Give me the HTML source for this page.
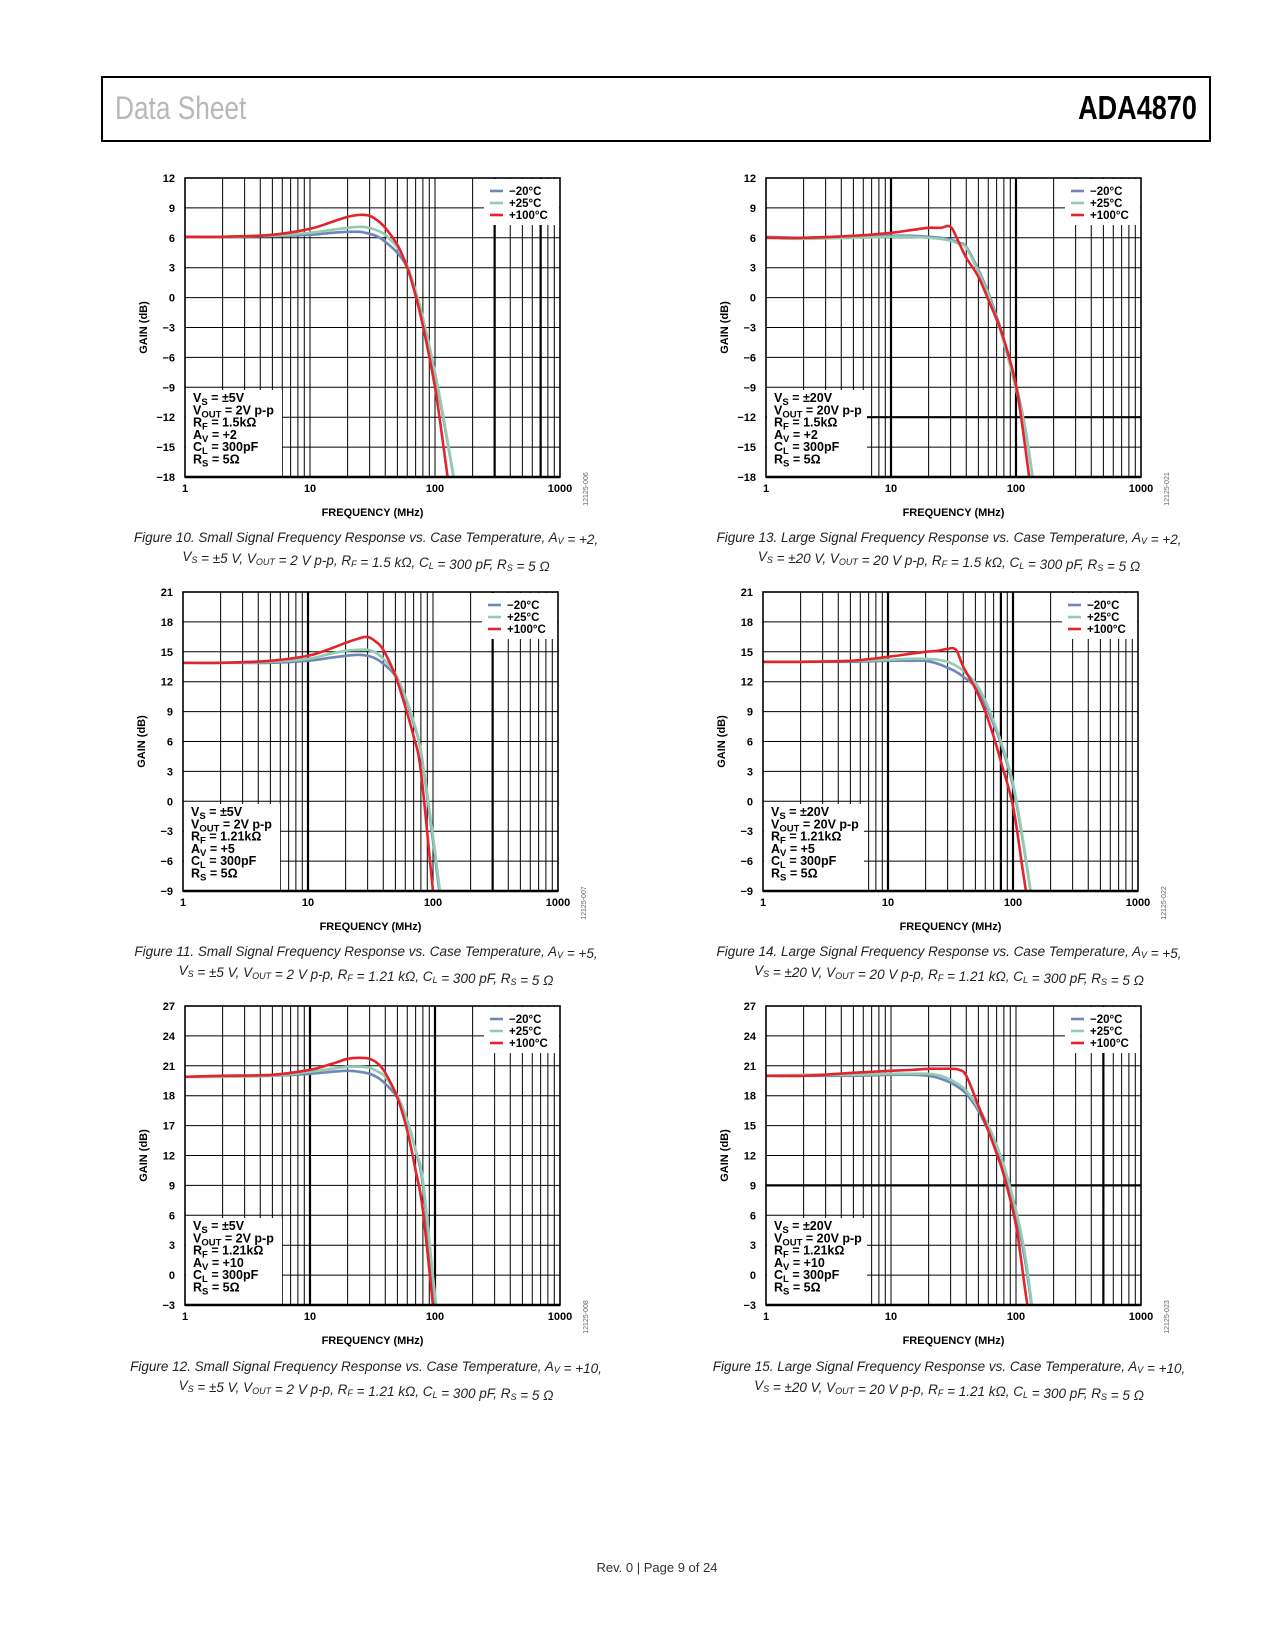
<!DOCTYPE html>
<html><head><meta charset="utf-8">
<style>
html,body{margin:0;padding:0;background:#fff;}
body{width:1275px;height:1650px;position:relative;overflow:hidden;font-family:"Liberation Sans",sans-serif;}
#hdr{position:absolute;left:101px;top:76px;width:1110px;height:66px;border:2px solid #000;box-sizing:border-box;}
#hdr .l{position:absolute;left:12px;top:12px;font-size:32px;color:#b8b8b8;font-family:"Liberation Sans Narrow","Liberation Sans",sans-serif;transform:scaleX(0.82);transform-origin:left;}
#hdr .r{position:absolute;right:12px;top:11px;font-size:33px;font-weight:bold;color:#000;font-family:"Liberation Sans Narrow","Liberation Sans",sans-serif;transform:scaleX(0.82);transform-origin:right;}
svg{position:absolute;left:0;top:0;}
.cap{font-family:"Liberation Sans",sans-serif;font-style:italic;font-size:13.5px;fill:#222;}
</style></head><body>
<div id="hdr">
<div class="l">Data Sheet</div>
<div class="r">ADA4870</div>
</div>
<svg id="pg" width="1275" height="1650" xmlns="http://www.w3.org/2000/svg">
<text x="657" y="1572" text-anchor="middle" font-size="13" fill="#333">Rev. 0 | Page 9 of 24</text>
</svg>
<script>
const freqs = [1,2,5,10,15,20,25,30,35,40,50,60,70,80,100,120,150];
const seriesNames = ["−20°C","+25°C","+100°C"];
const xTickLabels = ["1","10","100","1000"];
// Figure 10
const f10Blue  = [6.1,6.1,6.2,6.3,6.5,6.6,6.6,6.4,6.1,5.6,4.5,3.0,0.5,-2.5,-7.8,-13,-20];
const f10Green = [6.1,6.1,6.2,6.5,6.8,7.0,7.1,7.0,6.7,6.3,5.0,3.2,0.7,-2.0,-7.5,-12.8,-20];
const f10Red   = [6.1,6.1,6.3,6.9,7.6,8.1,8.3,8.2,7.7,7.0,5.3,3.0,0.2,-2.8,-9,-16,-25];
const f10Ticks = ["12","9","6","3","0","−3","−6","−9","−12","−15","−18"];
// Figure 11
const f11Blue  = [13.9,13.9,13.9,14.1,14.4,14.6,14.7,14.6,14.3,13.8,12.6,10.4,7.8,5.0,-4,-12,-22];
const f11Green = [13.9,13.9,14.0,14.3,14.8,15.1,15.2,15.2,14.9,14.3,12.8,10.5,8.0,5.0,-3.5,-11.5,-22];
const f11Red   = [13.9,13.9,14.1,14.6,15.3,15.9,16.3,16.5,16.0,15.2,12.6,9.5,6.5,3.0,-9,-18,-30];
const f11Ticks = ["21","18","15","12","9","6","3","0","−3","−6","−9"];
// Figure 12
const f12Blue  = [19.9,19.9,20.0,20.2,20.4,20.5,20.4,20.2,19.8,19.2,17.8,15.5,12.5,9,-2.5,-8,-18];
const f12Green = [19.9,19.9,20.0,20.4,20.7,20.9,20.9,20.8,20.4,19.9,18.0,15.5,12.5,9.5,-2,-10,-20];
const f12Red   = [19.9,20.0,20.1,20.6,21.2,21.7,21.8,21.7,21.2,20.3,17.8,14.5,10.5,6.5,-5,-14,-25];
const f12Ticks = ["27","24","21","18","17","12","9","6","3","0","−3"];
// Figure 13
const f13Blue  = [6.1,6.0,6.1,6.2,6.2,6.1,6.0,5.8,5.5,5.1,2.8,0.5,-1.9,-4.2,-8.8,-13.5,-22];
const f13Green = [6.0,5.9,6.0,6.1,6.1,6.0,5.9,5.7,5.4,5.0,2.6,0.3,-2.2,-4.5,-9.2,-13.5,-22];
const f13Red   = [6.0,6.0,6.2,6.5,6.8,7.0,7.0,7.1,5.5,4.0,2.1,-0.2,-2.2,-4.2,-8.8,-15.5,-25];
const f13Ticks = ["12","9","6","3","0","−3","−6","−9","−12","−15","−18"];
// Figure 14
const f14Blue  = [14.0,14.0,14.0,14.1,14.1,14.1,13.8,13.4,13.0,12.5,11.5,9.7,7.7,5.8,1.5,-4,-12];
const f14Green = [14.0,14.0,14.1,14.2,14.3,14.3,14.2,14.0,13.6,13.1,11.9,10.1,8.0,6.0,1.8,-3.8,-12];
const f14Red   = [14.0,14.0,14.1,14.5,14.8,15.0,15.1,15.3,15.2,13.5,11.3,9.0,6.5,4.0,-0.5,-7,-15];
const f14Ticks = ["21","18","15","12","9","6","3","0","−3","−6","−9"];
// Figure 15
const f15Blue  = [20.0,20.0,20.0,20.1,20.1,20.0,19.7,19.3,18.8,18.2,16.5,14.5,12.5,10.5,6,1,-8];
const f15Green = [20.0,20.1,20.1,20.2,20.2,20.2,20.0,19.6,19.1,18.5,16.8,15,13,11,6.5,1.5,-8];
const f15Red   = [20.0,20.0,20.3,20.5,20.6,20.7,20.7,20.7,20.6,20.0,17.0,14.5,12.2,10.0,5.0,-2,-10];
const f15Ticks = ["27","24","21","18","15","12","9","6","3","0","−3"];

const NS="http://www.w3.org/2000/svg";
const pg=document.getElementById('pg');
const COLORS=["#6f86b8","#93cbb0","#e3242b"];
function mk(tag,attrs,parent){const e=document.createElementNS(NS,tag);for(const k in attrs)e.setAttribute(k,attrs[k]);(parent||pg).appendChild(e);return e;}

function drawChart(c){
  const g=mk('g',{});
  
  
  const L=c.left,T=c.top,W=375,H=299,B=T+H,R=L+W;
  const xs=f=>L+Math.log10(f)*W/3;
  const ys=v=>T+(c.ymax-v)*H/(c.ymax-c.ymin);
  for(let d=0;d<3;d++)for(let k=1;k<10;k++){
    const f=Math.pow(10,d)*k; if(f===1)continue;
    const x=xs(f); const heavy=c.heavyX.indexOf(f)>=0;
    const ln=mk('line',{x1:x,x2:x,y1:T,y2:B,stroke:'#000','stroke-width':heavy?2.2:1},g);
    
    
  }
  for(let i=1;i<10;i++){
    const y=T+i*H/10; const heavy=c.heavyY.indexOf(i)>=0;
    const ln=mk('line',{x1:L,x2:R,y1:y,y2:y,stroke:'#000','stroke-width':heavy?2.2:1},g);
    
    
  }
  const lb=mk('rect',{x:R-76,y:T+1,width:75,height:46,fill:'#fff'},g);
  
  
  const ab=mk('rect',{x:L+1,y:B-87,width:c.annW,height:86,fill:'#fff'},g);
  
  
  const cid='clip'+c.id;
  const cp=mk('clipPath',{id:cid},g); mk('rect',{x:L,y:T,width:W,height:H},cp);
  const sers=[c.blue,c.green,c.red];
  sers.forEach((s,si)=>{
    const pts=freqs.map((f,i)=>[xs(f),ys(s[i])]);
    let d='M'+pts[0][0]+','+pts[0][1];
    for(let i=0;i<pts.length-1;i++){
      const p0=pts[i-1]||pts[i],p1=pts[i],p2=pts[i+1],p3=pts[i+2]||p2;
      const c1=[p1[0]+(p2[0]-p0[0])/6,p1[1]+(p2[1]-p0[1])/6];
      const c2=[p2[0]-(p3[0]-p1[0])/6,p2[1]-(p3[1]-p1[1])/6];
      d+=' C'+c1[0]+','+c1[1]+' '+c2[0]+','+c2[1]+' '+p2[0]+','+p2[1];
    }
    const p=mk('path',{d:d,fill:'none',stroke:COLORS[si],'stroke-width':2.6,'clip-path':'url(#'+cid+')','stroke-linejoin':'round'},g);
    
    
  });
  const fr=mk('rect',{x:L,y:T,width:W,height:H,fill:'none',stroke:'#000','stroke-width':1.6},g);
  
  
  const bl=mk('line',{x1:L,x2:R,y1:B,y2:B,stroke:'#000','stroke-width':2.4},g);
  
  
  seriesNames.forEach((n,i)=>{
    const y=T+13+i*12;
    const sw=mk('line',{x1:R-70,x2:R-57,y1:y,y2:y,stroke:COLORS[i],'stroke-width':2.6},g);
    
    
    const t=mk('text',{x:R-51,y:y+4,'font-size':11.5,'font-weight':'bold'},g);
    t.textContent=n;
    
    
  });
  c.ticks.forEach((lab,i)=>{
    const t=mk('text',{x:L-10,y:T+i*H/10+4,'font-size':11,'font-weight':'bold','text-anchor':'end'},g);
    t.textContent=lab;
    
    
  });
  xTickLabels.forEach((lab,i)=>{
    const t=mk('text',{x:L+i*W/3,y:B+15,'font-size':11,'font-weight':'bold','text-anchor':'middle'},g);
    t.textContent=lab;
    
    
  });
  const xt=mk('text',{x:L+W/2,y:B+39,'font-size':11,'font-weight':'bold','text-anchor':'middle'},g);
  xt.textContent='FREQUENCY (MHz)';
  
  
  const gx=L-38,gy=T+H/2;
  const yt=mk('text',{x:gx,y:gy,'font-size':11,'font-weight':'bold','text-anchor':'middle',transform:'rotate(-90 '+gx+' '+gy+')'},g);
  yt.textContent='GAIN (dB)';
  
  
  const cx=R+28,cy=B+12;
  const ct=mk('text',{x:cx,y:cy,'font-size':7,fill:'#666','text-anchor':'middle',transform:'rotate(-90 '+cx+' '+cy+')'},g);
  ct.textContent=c.code;
  
  
  c.ann.forEach((ln,i)=>{
    const t=mk('text',{x:L+8,y:B-75+i*12.3,'font-size':12.5,'font-weight':'bold'},g);
    t.innerHTML=ln;
    
    
  });
  c.cap.forEach((ln,i)=>{
    const t=mk('text',{x:c.capX,y:c.capY+i*19,'text-anchor':'middle',class:'cap'},pg);
    t.innerHTML=ln;
    
    
  });
}
const sub=s=>'<tspan dy="3" font-size="9.5">'+s+'</tspan><tspan dy="-3"> </tspan>';
const ssub=s=>'<tspan dy="2" font-size="9">'+s+'</tspan><tspan dy="-2"></tspan>';
function ann(vs,vo,rf,av){return ['V'+sub('S')+'= '+vs,'V'+sub('OUT')+'= '+vo,'R'+sub('F')+'= '+rf,'A'+sub('V')+'= '+av,'C'+sub('L')+'= 300pF','R'+sub('S')+'= 5Ω'];}
function cap(n,title,av,vs,vo,rf){return ['Figure '+n+'. '+title+' Frequency Response vs. Case Temperature, A'+ssub('V')+' = '+av+',',
 'V'+ssub('S')+' = '+vs+', V'+ssub('OUT')+' = '+vo+' p-p, R'+ssub('F')+' = '+rf+' kΩ, C'+ssub('L')+' = 300 pF, R'+ssub('S')+' = 5 Ω'];}

drawChart({id:'chart-fig10',left:185,top:178,ymin:-18,ymax:12,ticks:f10Ticks,blue:f10Blue,green:f10Green,red:f10Red,heavyX:[300,700],heavyY:[],annW:96,code:'12125-006',
 ann:ann('±5V','2V p-p','1.5kΩ','+2'),cap:cap(10,'Small Signal','+2','±5 V','2 V','1.5'),capX:366,capY:542});
drawChart({id:'chart-fig11',left:183,top:592,ymin:-9,ymax:21,ticks:f11Ticks,blue:f11Blue,green:f11Green,red:f11Red,heavyX:[10,300],heavyY:[],annW:96,code:'12125-007',
 ann:ann('±5V','2V p-p','1.21kΩ','+5'),cap:cap(11,'Small Signal','+5','±5 V','2 V','1.21'),capX:366,capY:956});
drawChart({id:'chart-fig12',left:185,top:1006,ymin:-3,ymax:27,ticks:f12Ticks,blue:f12Blue,green:f12Green,red:f12Red,heavyX:[10,100],heavyY:[],annW:96,code:'12125-008',
 ann:ann('±5V','2V p-p','1.21kΩ','+10'),cap:cap(12,'Small Signal','+10','±5 V','2 V','1.21'),capX:366,capY:1371});
drawChart({id:'chart-fig13',left:766,top:178,ymin:-18,ymax:12,ticks:f13Ticks,blue:f13Blue,green:f13Green,red:f13Red,heavyX:[10,100],heavyY:[8],annW:100,code:'12125-021',
 ann:ann('±20V','20V p-p','1.5kΩ','+2'),cap:cap(13,'Large Signal','+2','±20 V','20 V','1.5'),capX:949,capY:542});
drawChart({id:'chart-fig14',left:763,top:592,ymin:-9,ymax:21,ticks:f14Ticks,blue:f14Blue,green:f14Green,red:f14Red,heavyX:[10,80,100],heavyY:[],annW:100,code:'12125-022',
 ann:ann('±20V','20V p-p','1.21kΩ','+5'),cap:cap(14,'Large Signal','+5','±20 V','20 V','1.21'),capX:949,capY:956});
drawChart({id:'chart-fig15',left:766,top:1006,ymin:-3,ymax:27,ticks:f15Ticks,blue:f15Blue,green:f15Green,red:f15Red,heavyX:[500],heavyY:[6],annW:100,code:'12125-023',
 ann:ann('±20V','20V p-p','1.21kΩ','+10'),cap:cap(15,'Large Signal','+10','±20 V','20 V','1.21'),capX:949,capY:1371});
</script>
</body></html>
